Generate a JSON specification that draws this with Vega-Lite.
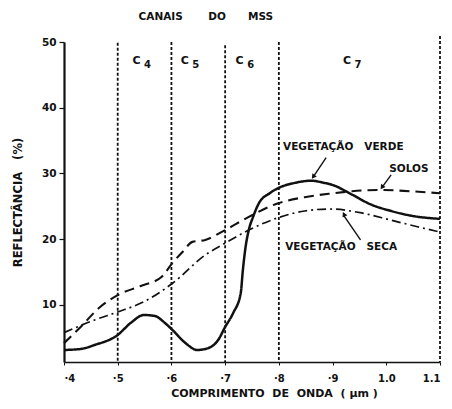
{
  "$schema": "https://vega.github.io/schema/vega-lite/v6.json",
  "width": 376,
  "height": 320,
  "autosize": {"type": "none"},
  "padding": {"left": 64, "top": 42, "right": 12, "bottom": 47},
  "background": "white",
  "config": {"view": {"stroke": null}, "font": "DejaVu Sans"},
  "datasets": {
    "curves": [
      {"series": "verde", "wl": 0.400, "refl": 3.16},
      {"series": "verde", "wl": 0.431, "refl": 3.31},
      {"series": "verde", "wl": 0.457, "refl": 3.92},
      {"series": "verde", "wl": 0.500, "refl": 5.44},
      {"series": "verde", "wl": 0.524, "refl": 7.26},
      {"series": "verde", "wl": 0.549, "refl": 8.48},
      {"series": "verde", "wl": 0.569, "refl": 8.33},
      {"series": "verde", "wl": 0.588, "refl": 7.26},
      {"series": "verde", "wl": 0.602, "refl": 6.20},
      {"series": "verde", "wl": 0.626, "refl": 4.22},
      {"series": "verde", "wl": 0.648, "refl": 3.16},
      {"series": "verde", "wl": 0.669, "refl": 3.46},
      {"series": "verde", "wl": 0.687, "refl": 4.68},
      {"series": "verde", "wl": 0.700, "refl": 6.66},
      {"series": "verde", "wl": 0.715, "refl": 8.79},
      {"series": "verde", "wl": 0.729, "refl": 11.8},
      {"series": "verde", "wl": 0.733, "refl": 15.3},
      {"series": "verde", "wl": 0.738, "refl": 18.8},
      {"series": "verde", "wl": 0.744, "refl": 21.4},
      {"series": "verde", "wl": 0.752, "refl": 23.4},
      {"series": "verde", "wl": 0.763, "refl": 25.5},
      {"series": "verde", "wl": 0.783, "refl": 27.0},
      {"series": "verde", "wl": 0.802, "refl": 27.9},
      {"series": "verde", "wl": 0.826, "refl": 28.5},
      {"series": "verde", "wl": 0.860, "refl": 28.9},
      {"series": "verde", "wl": 0.883, "refl": 28.6},
      {"series": "verde", "wl": 0.902, "refl": 28.2},
      {"series": "verde", "wl": 0.936, "refl": 26.8},
      {"series": "verde", "wl": 0.971, "refl": 25.3},
      {"series": "verde", "wl": 1.009, "refl": 24.3},
      {"series": "verde", "wl": 1.045, "refl": 23.6},
      {"series": "verde", "wl": 1.100, "refl": 23.1},
      {"series": "solos", "wl": 0.400, "refl": 4.2},
      {"series": "solos", "wl": 0.431, "refl": 6.66},
      {"series": "solos", "wl": 0.465, "refl": 9.54},
      {"series": "solos", "wl": 0.500, "refl": 11.5},
      {"series": "solos", "wl": 0.543, "refl": 12.9},
      {"series": "solos", "wl": 0.582, "refl": 14.3},
      {"series": "solos", "wl": 0.602, "refl": 16.4},
      {"series": "solos", "wl": 0.621, "refl": 18.1},
      {"series": "solos", "wl": 0.639, "refl": 19.6},
      {"series": "solos", "wl": 0.663, "refl": 19.9},
      {"series": "solos", "wl": 0.700, "refl": 21.4},
      {"series": "solos", "wl": 0.744, "refl": 23.4},
      {"series": "solos", "wl": 0.796, "refl": 25.4},
      {"series": "solos", "wl": 0.848, "refl": 26.4},
      {"series": "solos", "wl": 0.902, "refl": 27.0},
      {"series": "solos", "wl": 0.936, "refl": 27.3},
      {"series": "solos", "wl": 0.990, "refl": 27.5},
      {"series": "solos", "wl": 1.045, "refl": 27.3},
      {"series": "solos", "wl": 1.100, "refl": 27.0},
      {"series": "seca", "wl": 0.400, "refl": 5.8},
      {"series": "seca", "wl": 0.457, "refl": 7.72},
      {"series": "seca", "wl": 0.500, "refl": 8.94},
      {"series": "seca", "wl": 0.549, "refl": 10.5},
      {"series": "seca", "wl": 0.602, "refl": 13.3},
      {"series": "seca", "wl": 0.663, "refl": 17.6},
      {"series": "seca", "wl": 0.700, "refl": 19.4},
      {"series": "seca", "wl": 0.744, "refl": 21.4},
      {"series": "seca", "wl": 0.796, "refl": 23.2},
      {"series": "seca", "wl": 0.848, "refl": 24.3},
      {"series": "seca", "wl": 0.895, "refl": 24.6},
      {"series": "seca", "wl": 0.954, "refl": 24.0},
      {"series": "seca", "wl": 1.009, "refl": 22.9},
      {"series": "seca", "wl": 1.058, "refl": 21.9},
      {"series": "seca", "wl": 1.100, "refl": 21.1}
    ],
    "channels": [
      {"wl": 0.5, "top": 49.9},
      {"wl": 0.6, "top": 50.0},
      {"wl": 0.7, "top": 49.5},
      {"wl": 0.8, "top": 50.0},
      {"wl": 1.1, "top": 50.9}
    ],
    "channelNames": [
      {"letter": "C", "sub": "4", "wl": 0.535, "refl": 47.1},
      {"letter": "C", "sub": "5", "wl": 0.625, "refl": 47.1},
      {"letter": "C", "sub": "6", "wl": 0.727, "refl": 47.1},
      {"letter": "C", "sub": "7", "wl": 0.927, "refl": 47.1}
    ],
    "labels": [
      {"text": "CANAIS\u00a0\u00a0\u00a0\u00a0\u00a0\u00a0\u00a0DO\u00a0\u00a0\u00a0\u00a0\u00a0\u00a0MSS", "wl": 0.664, "refl": 53.8},
      {"text": "VEGETA\u00c7\u00c3O\u00a0\u00a0\u00a0VERDE", "wl": 0.920, "refl": 34.0},
      {"text": "SOLOS", "wl": 1.042, "refl": 30.7},
      {"text": "VEGETA\u00c7\u00c3O\u00a0\u00a0\u00a0SECA", "wl": 0.916, "refl": 18.8}
    ],
    "arrows": [
      {"label": "verde", "x0": 0.888, "y0": 32.4, "x1": 0.864, "y1": 29.5},
      {"label": "solos", "x0": 1.009, "y0": 29.8, "x1": 0.992, "y1": 27.9},
      {"label": "seca", "x0": 0.952, "y0": 19.9, "x1": 0.921, "y1": 23.6}
    ]
  },
  "layer": [
    {
      "data": {"name": "curves"},
      "mark": {"type": "line", "interpolate": "monotone"},
      "encoding": {
        "x": {
          "field": "wl", "type": "quantitative",
          "scale": {"domain": [0.4, 1.1], "nice": false, "zero": false},
          "axis": {
            "values": [0.4, 0.5, 0.6, 0.7, 0.8, 0.9, 1.0, 1.1],
            "labelExpr": "datum.value < 0.95 ? '·' + format(datum.value * 10, 'd') : format(datum.value, '.1f')",
            "title": "COMPRIMENTO\u00a0\u00a0DE\u00a0\u00a0ONDA\u00a0\u00a0(\u00a0\u03bcm\u00a0)",
            "grid": false,
            "domainWidth": 1.5, "domainColor": "#111",
            "tickSize": 3, "tickColor": "#111", "tickWidth": 1,
            "labelFont": "DejaVu Sans", "labelFontWeight": "bold", "labelFontSize": 10, "labelColor": "#111", "labelPadding": 8,
            "titleFont": "DejaVu Sans", "titleFontWeight": "bold", "titleFontSize": 11, "titleColor": "#111",
            "titleX": 210, "titleY": 31, "titleAlign": "center", "titleBaseline": "middle"
          }
        },
        "y": {
          "field": "refl", "type": "quantitative",
          "scale": {"domain": [1.33, 50], "nice": false, "zero": false},
          "axis": {
            "values": [10, 20, 30, 40, 50],
            "title": "REFLECT\u00c2NCIA\u00a0\u00a0\u00a0(%)",
            "grid": false,
            "domainWidth": 2.2, "domainColor": "#111",
            "tickSize": 5, "tickColor": "#111", "tickWidth": 1.2,
            "labelFont": "DejaVu Sans", "labelFontWeight": "bold", "labelFontSize": 10.5, "labelColor": "#111", "labelPadding": 3,
            "titleFont": "DejaVu Sans", "titleFontWeight": "bold", "titleFontSize": 11.5, "titleColor": "#111",
            "titleX": -46, "titleY": 160, "titleAngle": -90, "titleAlign": "center", "titleBaseline": "middle"
          }
        },
        "detail": {"field": "series"},
        "color": {"field": "series", "type": "nominal", "scale": {"domain": ["verde", "solos", "seca"], "range": ["#111", "#111", "#111"]}, "legend": null},
        "strokeDash": {"field": "series", "type": "nominal", "scale": {"domain": ["verde", "solos", "seca"], "range": [[1, 0], [10, 6], [9, 4, 2, 4]]}, "legend": null},
        "strokeWidth": {"field": "series", "type": "nominal", "scale": {"domain": ["verde", "solos", "seca"], "range": [2.5, 1.7, 1.7]}, "legend": null}
      }
    },
    {
      "data": {"name": "channels"},
      "mark": {"type": "rule", "strokeDash": [3, 2], "strokeWidth": 1.8, "color": "#111"},
      "encoding": {
        "x": {"field": "wl", "type": "quantitative"},
        "y": {"field": "top", "type": "quantitative"},
        "y2": {"datum": 1.33}
      }
    },
    {
      "data": {"name": "arrows"},
      "mark": {"type": "rule", "strokeWidth": 1.4, "color": "#111"},
      "encoding": {
        "x": {"field": "x0", "type": "quantitative"},
        "y": {"field": "y0", "type": "quantitative"},
        "x2": {"field": "x1"},
        "y2": {"field": "y1"}
      }
    },
    {
      "data": {"name": "arrows"},
      "mark": {"type": "point", "shape": "triangle-up", "filled": true, "size": 30, "color": "#111", "opacity": 1},
      "encoding": {
        "x": {"field": "x1", "type": "quantitative"},
        "y": {"field": "y1", "type": "quantitative"},
        "angle": {"field": "label", "type": "nominal", "scale": {"domain": ["verde", "solos", "seca"], "range": [215, 214, 324]}, "legend": null}
      }
    },
    {
      "data": {"name": "labels"},
      "mark": {"type": "text", "font": "DejaVu Sans", "fontWeight": "bold", "fontSize": 10.5, "color": "#111", "align": "center", "baseline": "middle"},
      "encoding": {
        "x": {"field": "wl", "type": "quantitative"},
        "y": {"field": "refl", "type": "quantitative"},
        "text": {"field": "text"}
      }
    },
    {
      "data": {"name": "channelNames"},
      "mark": {"type": "text", "font": "DejaVu Sans", "fontWeight": "bold", "fontSize": 11, "color": "#111", "align": "center", "baseline": "middle"},
      "encoding": {
        "x": {"field": "wl", "type": "quantitative"},
        "y": {"field": "refl", "type": "quantitative"},
        "text": {"field": "letter"}
      }
    },
    {
      "data": {"name": "channelNames"},
      "mark": {"type": "text", "font": "DejaVu Sans", "fontWeight": "bold", "fontSize": 10, "color": "#111", "align": "center", "baseline": "middle", "dx": 11, "dy": 4},
      "encoding": {
        "x": {"field": "wl", "type": "quantitative"},
        "y": {"field": "refl", "type": "quantitative"},
        "text": {"field": "sub"}
      }
    }
  ]
}
